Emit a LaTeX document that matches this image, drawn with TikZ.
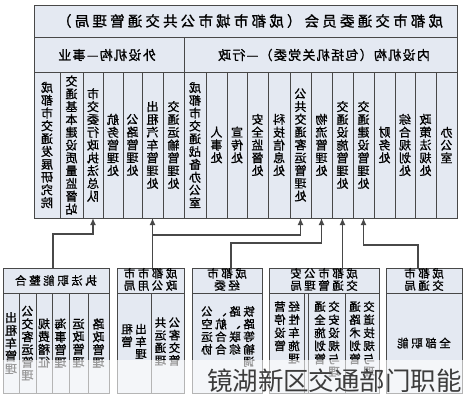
\documentclass[tikz,border=0pt]{standalone}
\usepackage{fontspec}
\usetikzlibrary{arrows.meta}
\newfontfamily\cjk{Noto Sans CJK SC}[FakeBold=1]
\newfontfamily\cjkW{Noto Sans CJK SC}
\newfontfamily\cjkT{Noto Sans CJK SC}[LetterSpace=22,FakeBold=1]
\newfontfamily\cjkH{Noto Sans CJK SC}[LetterSpace=10,FakeBold=1]
\newfontfamily\cjkB{Noto Sans CJK SC}[LetterSpace=22,FakeBold=1]
\definecolor{cellc}{RGB}{228,233,242}
\definecolor{linec}{RGB}{72,72,72}
\definecolor{wmc}{RGB}{60,60,60}
\makeatletter
\newcommand\vt[1]{\reflectbox{\vbox{\baselineskip=12.8pt\lineskiplimit=-20pt\lineskip=0pt\@tfor\x:=#1\do{\hbox to 1em{\hss\x\hss}}}}}
\makeatother
\newcommand\ml[1]{\reflectbox{\begin{tabular}{@{}l@{}}#1\end{tabular}}}
\newcommand\mc[1]{\reflectbox{\begin{tabular}{@{}c@{}}#1\end{tabular}}}
\begin{document}
\begin{tikzpicture}[x=1pt,y=-1pt,
  cell/.style={draw=linec, line width=1pt, fill=cellc, inner sep=0pt, outer sep=0pt, anchor=north west},
  colfont/.style={font=\cjk\fontsize{12}{12.8}\selectfont},
  boxfont/.style={font=\cjkB\fontsize{11.5}{13}\selectfont},
  conn/.style={draw=linec, line width=1.3pt, -{Latex[length=7pt,width=6pt]}},
  txt/.style={inner sep=0pt}]
\useasboundingbox (0,0) rectangle (464,400);
% ---------- upper frame ----------
\node[cell, minimum width=423pt, minimum height=32pt] (title) at (34,5) {};
\node[txt, font=\cjkT\fontsize{14.5}{16}\selectfont] (titletxt) at (250,21) {\reflectbox{成都市交通委员会（成都市城市公共交通管理局）}};
\node[cell, minimum width=150pt, minimum height=35pt] (hl) at (34,37) {};
\node[cell, minimum width=273pt, minimum height=35pt] (hr) at (184,37) {};
\node[txt, font=\cjkH\fontsize{13}{15}\selectfont] (hltxt) at (107,55) {\reflectbox{外设机构—事业}};
\node[txt, font=\cjkH\fontsize{13}{15}\selectfont] (hrtxt) at (324,55) {\reflectbox{内设机构（包括机关党委）—行政}};
% columns
\begin{scope}[every node/.append style={colfont}]
\node[cell, minimum width=26pt, minimum height=146pt] (c1) at (34,72) {\vt{成都市交通发展研究院}};
\node[cell, minimum width=23pt, minimum height=146pt] (c2) at (60,72) {\vt{交通基本建设质量监督站}};
\node[cell, minimum width=20pt, minimum height=146pt] (c3) at (83,72) {\vt{市交委行政执法总队}};
\node[cell, minimum width=20pt, minimum height=146pt] (c4) at (103,72) {\vt{航务管理处}};
\node[cell, minimum width=19pt, minimum height=146pt] (c5) at (123,72) {\vt{公路管理处}};
\node[cell, minimum width=21pt, minimum height=146pt] (c6) at (142,72) {\vt{出租汽车管理处}};
\node[cell, minimum width=21pt, minimum height=146pt] (c7) at (163,72) {\vt{交通运输管理处}};
\node[cell, minimum width=22pt, minimum height=146pt] (c8) at (184,72) {\vt{成都市交通战备办公室}};
\node[cell, minimum width=21pt, minimum height=146pt] (c9) at (206,72) {\vt{人事处}};
\node[cell, minimum width=20pt, minimum height=146pt] (c10) at (227,72) {\vt{宣传处}};
\node[cell, minimum width=21pt, minimum height=146pt] (c11) at (247,72) {\vt{安全监督处}};
\node[cell, minimum width=22pt, minimum height=146pt] (c12) at (268,72) {\vt{科技信息处}};
\node[cell, minimum width=21pt, minimum height=146pt] (c13) at (290,72) {\vt{公共交通客运管理处}};
\node[cell, minimum width=21pt, minimum height=146pt] (c14) at (311,72) {\vt{物流管理处}};
\node[cell, minimum width=21pt, minimum height=146pt] (c15) at (332,72) {\vt{交通设施管理处}};
\node[cell, minimum width=21pt, minimum height=146pt] (c16) at (353,72) {\vt{交通建设管理处}};
\node[cell, minimum width=21pt, minimum height=146pt] (c17) at (374,72) {\vt{财务处}};
\node[cell, minimum width=20pt, minimum height=146pt] (c18) at (395,72) {\vt{综合规划处}};
\node[cell, minimum width=21pt, minimum height=146pt] (c19) at (415,72) {\vt{政策法规处}};
\node[cell, minimum width=21pt, minimum height=146pt] (c20) at (436,72) {\vt{办公室}};
\end{scope}
% ---------- box A ----------
\node[cell, minimum width=106pt, minimum height=25pt, boxfont] (hA) at (3,268) {\reflectbox{执法职能整合}};
\begin{scope}[every node/.append style={colfont}]
\node[cell, minimum width=16pt, minimum height=100pt] (a1) at (3,293) {\vt{出租车管理}};
\node[cell, minimum width=17pt, minimum height=100pt] (a2) at (19,293) {\vt{公交客运管理}};
\node[cell, minimum width=16pt, minimum height=100pt] (a3) at (36,293) {\vt{规费稽征}};
\node[cell, minimum width=17pt, minimum height=100pt] (a4) at (52,293) {\vt{海事管理}};
\node[cell, minimum width=19pt, minimum height=100pt] (a5) at (69,293) {\vt{运政管理}};
\node[cell, minimum width=21pt, minimum height=100pt] (a6) at (88,293) {\vt{路政管理}};
\end{scope}
% ---------- box B ----------
\node[cell, minimum width=67pt, minimum height=25pt, boxfont] (hB) at (117,268) {\mc{成都市市\\[-1.5pt]政公用局}};
\node[cell, minimum width=34pt, minimum height=100pt, boxfont] (b1) at (117,293) {\ml{出租\\[-1pt]车管\\[-1pt]理}};
\node[cell, minimum width=33pt, minimum height=100pt, boxfont] (b2) at (151,293) {\ml{公共\\[-1pt]客运\\[-1pt]交通\\[-1pt]管理}};
% ---------- box C ----------
\node[cell, minimum width=70pt, minimum height=25pt, boxfont] (hC) at (192,268) {\mc{成都市\\[-1.5pt]经委}};
\node[cell, minimum width=70pt, minimum height=100pt] (cb) at (192,293) {};
\node[txt, boxfont] (cbt) at (228,338) {\ml{铁路、公\\[-1pt]路、航空\\[-1pt]等联合运\\[-1pt]输综合协\\[-1pt]调}};
% ---------- box D ----------
\node[cell, minimum width=110pt, minimum height=25pt, boxfont] (hD) at (269,268) {\mc{成都市公安\\[-1.5pt]交通管理局}};
\node[cell, minimum width=35pt, minimum height=100pt] (d1) at (269,293) {};
\node[cell, minimum width=4pt, minimum height=100pt] (dg) at (304,293) {};
\node[cell, minimum width=37pt, minimum height=100pt] (d2) at (308,293) {};
\node[cell, minimum width=34pt, minimum height=100pt] (d3) at (345,293) {};
\node[txt, boxfont, anchor=north] (d1t) at (287,301) {\ml{经营\\[-0.5pt]性停\\[-0.5pt]车设\\[-0.5pt]施管\\[-0.5pt]理}};
\node[txt, boxfont, anchor=north] (d2t) at (327,301) {\ml{交通\\[-0.5pt]安全\\[-0.5pt]设施\\[-0.5pt]规划\\[-0.5pt]与管\\[-0.5pt]理}};
\node[txt, boxfont, anchor=north] (d3t) at (362,301) {\ml{交通\\[-0.5pt]道路\\[-0.5pt]技术\\[-0.5pt]规划\\[-0.5pt]与管\\[-0.5pt]理}};
% ---------- box E ----------
\node[cell, minimum width=76pt, minimum height=25pt, boxfont] (hE) at (386,268) {\mc{成都市\\[-1.5pt]交通局}};
\node[cell, minimum width=76pt, minimum height=100pt, boxfont] (eb) at (386,293) {\reflectbox{全部职能}};
% ---------- connectors ----------
\path (hA.north) ++(-3,0) coordinate (sA);
\draw[conn] (sA) -- ++(0,-34) -| (c3.south);
\draw[conn] (hB.north -| c6.south) -- (c6.south);
\path (c6.south) ++(0,17) coordinate (jB);
\draw[conn] (jB) -| (c13.south);
\path (hC.north) ++(4,0) coordinate (sC);
\draw[conn] (sC) -- ++(0,-25) -| (c14.south);
\draw[conn] (hD.north -| c15.south) -- (c15.south);
\path (hE.north) ++(-6,0) coordinate (sE);
\draw[conn] (sE) -- ++(0,-23) -| (c16.south);
% ---------- watermark band ----------
\fill[white, opacity=0.6] (0,360) rectangle (464,400);
\node[txt, font=\cjkW\fontsize{25.5}{28}\selectfont, text=wmc] (wm) at (334.5,381) {镜湖新区交通部门职能};
\end{tikzpicture}
\end{document}
